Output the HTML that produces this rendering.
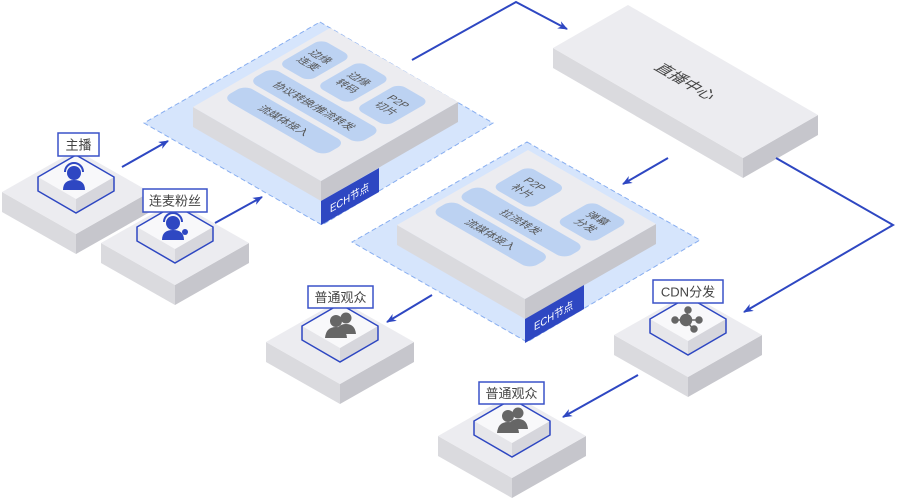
<!DOCTYPE html>
<html><head><meta charset="utf-8"><style>
html,body{margin:0;padding:0;background:#fff;}
svg{display:block;font-family:"Liberation Sans","Noto Sans CJK SC",sans-serif;}
</style></head><body>
<svg width="897" height="501" viewBox="0 0 897 501" xmlns="http://www.w3.org/2000/svg">
<defs>
<marker id="ar" markerWidth="10" markerHeight="8" refX="9" refY="4" orient="auto" markerUnits="userSpaceOnUse">
<path d="M0,0 L10,4 L0,8 L3,4 Z" fill="#2e47c2"/>
</marker>
</defs>

<!-- 直播中心 -->
<polygon points="553,48 743,158 743,178 553,68" fill="#dadade"/>
<polygon points="743,158 818,115 818,135 743,178" fill="#c6c6cc"/>
<polygon points="628,5 818,115 743,158 553,48" fill="#ececf0"/>
<g transform="matrix(0.866,0.5,-0.866,0.5,628,5)">
<text x="110" y="49" font-size="16" fill="#444" text-anchor="middle">直播中心</text>
</g>

<!-- connectors top -->
<polyline points="412,60 516,2 567,29" fill="none" stroke="#2e47c2" stroke-width="2" marker-end="url(#ar)"/>
<polyline points="776,158 893,225 744,312" fill="none" stroke="#2e47c2" stroke-width="2" marker-end="url(#ar)"/>
<line x1="668" y1="158" x2="623" y2="184" stroke="#2e47c2" stroke-width="2" marker-end="url(#ar)"/>

<!-- Platform 1 -->
<polygon points="320,22 493,123 322,225 144,123" fill="#d6e5fc" stroke="#88aef0" stroke-width="1" stroke-dasharray="5,3"/>
<polygon points="193,107 321,181 321,201 193,127" fill="#dadade"/>
<polygon points="321,181 458,102 458,122 321,201" fill="#c6c6cc"/>
<polygon points="330,28 458,102 321,181 193,107" fill="#ececf0"/>
<g transform="matrix(0.866,0.5,-0.866,0.5,330,28)" font-size="11" fill="#555" text-anchor="middle">
<rect x="6" y="16" width="35" height="50" rx="8" fill="#bcd2f2"/>
<rect x="50" y="16" width="36" height="50" rx="8" fill="#bcd2f2"/>
<rect x="95" y="16" width="36" height="50" rx="8" fill="#bcd2f2"/>
<rect x="6" y="73" width="126" height="27" rx="9" fill="#bcd2f2"/>
<rect x="8" y="106" width="116" height="26" rx="9" fill="#bcd2f2"/>
<text x="23.5" y="38">边缘</text><text x="23.5" y="52">连麦</text>
<text x="68" y="38">边缘</text><text x="68" y="52">转码</text>
<text x="113" y="38">P2P</text><text x="113" y="52">切片</text>
<text x="69" y="91">协议转换/推流转发</text>
<text x="66" y="123">流媒体接入</text>
</g>
<polygon points="321,201 379,168 379,192 321,225" fill="#2e47c2"/>
<g transform="matrix(0.866,-0.5,0,1,321,201)">
<text x="33" y="17" font-size="11" fill="#fff" text-anchor="middle">ECH节点</text>
</g>

<!-- Platform 2 -->
<polygon points="527,142 700,240 527,342 352,242" fill="#d6e5fc" stroke="#88aef0" stroke-width="1" stroke-dasharray="5,3"/>
<polygon points="397,225 525,299 525,319 397,245" fill="#dadade"/>
<polygon points="525,299 656,224 656,244 525,319" fill="#c6c6cc"/>
<polygon points="528,150 656,224 525,299 397,225" fill="#ececf0"/>
<g transform="matrix(0.866,0.5,-0.866,0.5,528,150)" font-size="11" fill="#555" text-anchor="middle">
<rect x="16" y="16" width="44" height="42" rx="8" fill="#bcd2f2"/>
<rect x="88" y="14" width="42" height="42" rx="8" fill="#bcd2f2"/>
<rect x="6" y="64" width="124" height="24" rx="9" fill="#bcd2f2"/>
<rect x="6" y="94" width="114" height="24" rx="9" fill="#bcd2f2"/>
<text x="38" y="34">P2P</text><text x="38" y="48">补片</text>
<text x="109" y="32">弹幕</text><text x="109" y="46">分发</text>
<text x="68" y="80">拉流转发</text>
<text x="63" y="110">流媒体接入</text>
</g>
<polygon points="525,319 584,285 584,309 525,343" fill="#2e47c2"/>
<g transform="matrix(0.866,-0.5,0,1,525,319)">
<text x="33" y="17" font-size="11" fill="#fff" text-anchor="middle">ECH节点</text>
</g>

<!-- Nodes -->
<!-- 主播 cx76 cy192 py177 -->
<g>
<polygon points="2,192 76,234 76,254 2,212" fill="#dadade"/>
<polygon points="76,234 150,192 150,212 76,254" fill="#c6c6cc"/>
<polygon points="76,150 150,192 76,234 2,192" fill="#ececf0"/>
<polygon points="38,177 76,199 76,213 38,191" fill="#e6e6ea"/>
<polygon points="76,199 114,177 114,191 76,213" fill="#d6d6dc"/>
<polygon points="76,155 114,177 76,199 38,177" fill="#f8f8fa"/>
<polygon points="76,155 114,177 114,191 76,213 38,191 38,177" fill="none" stroke="#2e47c2" stroke-width="1.5"/>
<circle cx="74" cy="173" r="7" fill="#2e47c2"/>
<path d="M65,172 A9,9 0 0 1 83,172" fill="none" stroke="#2e47c2" stroke-width="2"/>
<path d="M63,190 Q63,180 74,180 Q85,180 85,190 Z" fill="#2e47c2"/>
<rect x="58" y="133" width="41" height="23" fill="#fff" stroke="#3a52c8" stroke-width="1.5"/>
<text x="78.5" y="149.5" font-size="13" fill="#444" text-anchor="middle">主播</text>
</g>
<!-- 连麦粉丝 cx175 cy243 py227 -->
<g>
<polygon points="101,243 175,285 175,305 101,263" fill="#dadade"/>
<polygon points="175,285 249,243 249,263 175,305" fill="#c6c6cc"/>
<polygon points="175,201 249,243 175,285 101,243" fill="#ececf0"/>
<polygon points="137,227 175,249 175,263 137,241" fill="#e6e6ea"/>
<polygon points="175,249 213,227 213,241 175,263" fill="#d6d6dc"/>
<polygon points="175,205 213,227 175,249 137,227" fill="#f8f8fa"/>
<polygon points="175,205 213,227 213,241 175,263 137,241 137,227" fill="none" stroke="#2e47c2" stroke-width="1.5"/>
<circle cx="173" cy="223" r="7" fill="#2e47c2"/>
<path d="M164,222 A9,9 0 0 1 182,222" fill="none" stroke="#2e47c2" stroke-width="2"/>
<path d="M162,240 Q162,230 173,230 Q184,230 184,240 Z" fill="#2e47c2"/>
<circle cx="185" cy="232" r="3" fill="#2e47c2"/>
<rect x="143" y="189" width="64" height="23" fill="#fff" stroke="#3a52c8" stroke-width="1.5"/>
<text x="175" y="205.5" font-size="13" fill="#444" text-anchor="middle">连麦粉丝</text>
</g>
<!-- 普通观众1 cx340 cy342 py326 -->
<g>
<polygon points="266,342 340,384 340,404 266,362" fill="#dadade"/>
<polygon points="340,384 414,342 414,362 340,404" fill="#c6c6cc"/>
<polygon points="340,300 414,342 340,384 266,342" fill="#ececf0"/>
<polygon points="302,326 340,348 340,362 302,340" fill="#e6e6ea"/>
<polygon points="340,348 378,326 378,340 340,362" fill="#d6d6dc"/>
<polygon points="340,304 378,326 340,348 302,326" fill="#f8f8fa"/>
<polygon points="340,304 378,326 378,340 340,362 302,340 302,326" fill="none" stroke="#2e47c2" stroke-width="1.5"/>
<circle cx="346" cy="318" r="5.5" fill="#666"/>
<path d="M336,334 Q337,324 346,324 Q355,324 356,334 Z" fill="#666"/>
<circle cx="336" cy="321" r="6" fill="#666"/>
<path d="M325,338 Q326,327 336,327 Q346,327 347,338 Z" fill="#666"/>
<rect x="308" y="286" width="65" height="22" fill="#fff" stroke="#3a52c8" stroke-width="1.5"/>
<text x="340.5" y="302" font-size="13" fill="#444" text-anchor="middle">普通观众</text>
</g>
<!-- CDN cx688 cy335 py319 -->
<g>
<polygon points="614,335 688,377 688,397 614,355" fill="#dadade"/>
<polygon points="688,377 762,335 762,355 688,397" fill="#c6c6cc"/>
<polygon points="688,293 762,335 688,377 614,335" fill="#ececf0"/>
<polygon points="650,319 688,341 688,355 650,333" fill="#e6e6ea"/>
<polygon points="688,341 726,319 726,333 688,355" fill="#d6d6dc"/>
<polygon points="688,297 726,319 688,341 650,319" fill="#f8f8fa"/>
<polygon points="688,297 726,319 726,333 688,355 650,333 650,319" fill="none" stroke="#2e47c2" stroke-width="1.5"/>
<g stroke="#666" stroke-width="1.5" fill="#666">
<line x1="686" y1="320" x2="675" y2="320"/><line x1="686" y1="320" x2="698" y2="320"/>
<line x1="686" y1="320" x2="688" y2="310"/><line x1="686" y1="320" x2="693" y2="329"/>
<circle cx="686" cy="320" r="5.5"/><circle cx="675" cy="320" r="3"/><circle cx="699" cy="320" r="3"/>
<circle cx="688" cy="310" r="3"/><circle cx="694" cy="329" r="3"/>
</g>
<rect x="653" y="280" width="70" height="23" fill="#fff" stroke="#3a52c8" stroke-width="1.5"/>
<text x="688" y="296.5" font-size="13" fill="#444" text-anchor="middle">CDN分发</text>
</g>
<!-- 普通观众2 cx512 cy436 py421 -->
<g>
<polygon points="438,436 512,478 512,498 438,456" fill="#dadade"/>
<polygon points="512,478 586,436 586,456 512,498" fill="#c6c6cc"/>
<polygon points="512,394 586,436 512,478 438,436" fill="#ececf0"/>
<polygon points="474,421 512,443 512,457 474,435" fill="#e6e6ea"/>
<polygon points="512,443 550,421 550,435 512,457" fill="#d6d6dc"/>
<polygon points="512,399 550,421 512,443 474,421" fill="#f8f8fa"/>
<polygon points="512,399 550,421 550,435 512,457 474,435 474,421" fill="none" stroke="#2e47c2" stroke-width="1.5"/>
<circle cx="518" cy="413" r="5.5" fill="#666"/>
<path d="M508,429 Q509,419 518,419 Q527,419 528,429 Z" fill="#666"/>
<circle cx="508" cy="416" r="6" fill="#666"/>
<path d="M497,433 Q498,422 508,422 Q518,422 519,433 Z" fill="#666"/>
<rect x="479" y="382" width="65" height="22" fill="#fff" stroke="#3a52c8" stroke-width="1.5"/>
<text x="511.5" y="398" font-size="13" fill="#444" text-anchor="middle">普通观众</text>
</g>

<!-- connectors to nodes -->
<line x1="122" y1="167" x2="168" y2="141" stroke="#2e47c2" stroke-width="2" marker-end="url(#ar)"/>
<line x1="215" y1="223" x2="262" y2="197" stroke="#2e47c2" stroke-width="2" marker-end="url(#ar)"/>
<line x1="432" y1="295" x2="387" y2="322" stroke="#2e47c2" stroke-width="2" marker-end="url(#ar)"/>
<line x1="638" y1="375" x2="563" y2="417" stroke="#2e47c2" stroke-width="2" marker-end="url(#ar)"/>
</svg>
</body></html>
